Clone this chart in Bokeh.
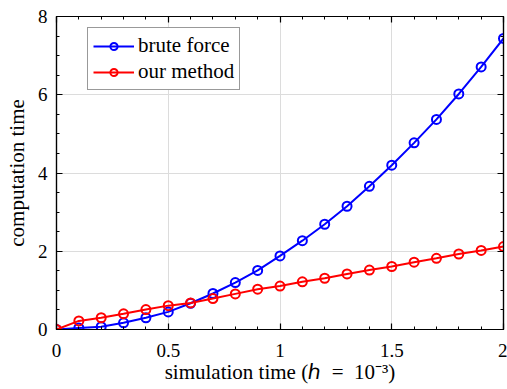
from bokeh.plotting import figure
from bokeh.models import (Range1d, LinearAxis, FixedTicker, NumeralTickFormatter,
                          Legend, LegendItem)
from bokeh.embed import file_html
from bokeh.resources import INLINE

# ---- data ----
sim_time = [0.0, 0.1, 0.2, 0.3, 0.4, 0.5, 0.6, 0.7, 0.8, 0.9, 1.0,
            1.1, 1.2, 1.3, 1.4, 1.5, 1.6, 1.7, 1.8, 1.9, 2.0]
brute_force = [0.0, 0.04, 0.07, 0.17, 0.30, 0.45, 0.67, 0.92, 1.20, 1.51, 1.88,
               2.27, 2.69, 3.15, 3.66, 4.20, 4.77, 5.37, 6.02, 6.71, 7.44]
our_method = [0.0, 0.22, 0.30, 0.40, 0.51, 0.61, 0.68, 0.79, 0.91, 1.03, 1.11,
              1.22, 1.31, 1.42, 1.52, 1.61, 1.72, 1.82, 1.93, 2.02, 2.12]
x_ticks = [0, 0.5, 1, 1.5, 2]
y_ticks = [0, 2, 4, 6, 8]
x_minor = [i / 10 for i in range(21)]
y_minor = [i / 2 for i in range(17)]
x_label = "simulation time (\u210e\u2002=\u200210\u207b\u00b3)"
y_label = "computation time"
series_names = ["brute force", "our method"]

FONT = "Liberation Serif"

p = figure(width=507, height=389, output_backend="svg", toolbar_location=None,
           x_range=Range1d(0, 2), y_range=Range1d(0, 8),
           min_border_left=56, min_border_right=4, min_border_top=16, min_border_bottom=60,
           background_fill_color="white", border_fill_color="white",
           outline_line_color="black", outline_line_width=1.2)

def style_axis(ax, ticks, minor, labels=True):
    ax.ticker = FixedTicker(ticks=ticks, minor_ticks=minor)
    ax.major_tick_in = 6
    ax.major_tick_out = 0
    ax.minor_tick_in = 3
    ax.minor_tick_out = 0
    ax.axis_line_color = "black"
    ax.axis_line_width = 1.2
    ax.major_tick_line_color = "black"
    ax.minor_tick_line_color = "black"
    ax.major_tick_line_width = 1.2
    ax.minor_tick_line_width = 1.0
    ax.major_label_text_font = FONT
    ax.major_label_text_font_size = "19px"
    ax.major_label_text_color = "black"
    ax.axis_label_text_font = FONT
    ax.axis_label_text_font_size = "21px"
    ax.axis_label_text_font_style = "normal"
    ax.axis_label_text_color = "black"
    ax.formatter = NumeralTickFormatter(format="0.[0]")
    if not labels:
        ax.major_label_text_font_size = "0px"
        ax.major_label_standoff = 0
        ax.axis_label = None

xa = p.xaxis[0]
ya = p.yaxis[0]
style_axis(xa, x_ticks, x_minor)
style_axis(ya, y_ticks, y_minor)
xa.axis_label = x_label
ya.axis_label = y_label
xa.major_label_standoff = 14
ya.major_label_standoff = 9
xa.axis_label_standoff = 0
ya.axis_label_standoff = 6

top = LinearAxis()
style_axis(top, x_ticks, x_minor, labels=False)
p.add_layout(top, "above")
right = LinearAxis()
style_axis(right, y_ticks, y_minor, labels=False)
p.add_layout(right, "right")

p.xgrid.ticker = FixedTicker(ticks=x_ticks)
p.ygrid.ticker = FixedTicker(ticks=y_ticks)
p.xgrid.grid_line_color = "#dcdcdc"
p.ygrid.grid_line_color = "#dcdcdc"
p.xgrid.grid_line_width = 1
p.ygrid.grid_line_width = 1

bl = p.line(sim_time, brute_force, line_color="blue", line_width=2)
bc = p.scatter(sim_time, brute_force, marker="circle", size=9, fill_color=None,
               line_color="blue", line_width=2)
rl = p.line(sim_time, our_method, line_color="red", line_width=2)
rc = p.scatter(sim_time, our_method, marker="circle", size=9, fill_color=None,
               line_color="red", line_width=2)

legend = Legend(items=[LegendItem(label=series_names[0], renderers=[bl, bc]),
                       LegendItem(label=series_names[1], renderers=[rl, rc])])
legend.label_text_font = FONT
legend.label_text_font_size = "21px"
legend.label_text_color = "black"
legend.glyph_width = 41
legend.glyph_height = 18
legend.label_standoff = 4
legend.spacing = 1
legend.padding = 5
legend.margin = 0
legend.border_line_color = "#333333"
legend.border_line_width = 1.2
legend.background_fill_alpha = 1
legend.label_height = 18
legend.location = (31, 239)
p.add_layout(legend, "center")

open("out.html", "w").write(file_html(p, INLINE))
